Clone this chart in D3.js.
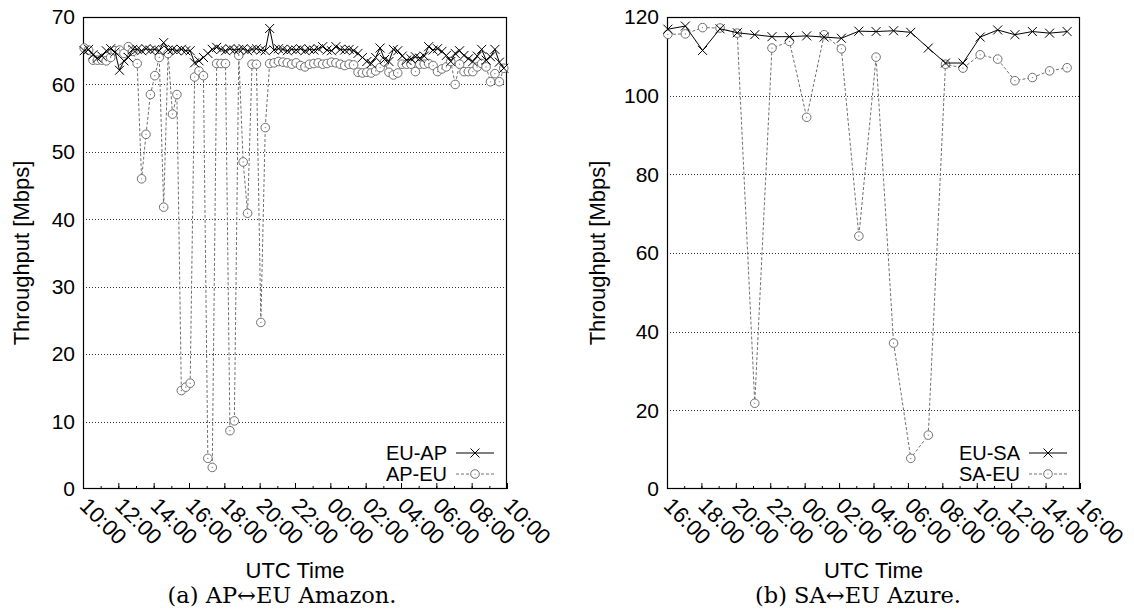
<!DOCTYPE html>
<html><head><meta charset="utf-8">
<script src="https://cdn.jsdelivr.net/npm/d3@7"></script>
<style>
body{margin:0;background:#fff}
svg{display:block}
text{font-family:"Liberation Sans",Arial,Helvetica,sans-serif;fill:#000}
</style>
</head><body>
<svg id="c" width="1134" height="613"></svg>
<script>
// ---------- data: (a) AP<->EU Amazon ----------
const apTimes = ["10:04","10:19","10:34","10:49","11:04","11:19","11:34","11:49","12:04","12:19","12:34","12:49",
"13:04","13:19","13:34","13:49","14:04","14:19","14:34","14:49","15:04","15:19","15:34","15:49",
"16:04","16:19","16:34","16:49","17:04","17:19","17:34","17:49","18:04","18:19","18:34","18:49",
"19:04","19:19","19:34","19:49","20:04","20:19","20:34","20:49","21:04","21:19","21:34","21:49",
"22:04","22:19","22:34","22:49","23:04","23:19","23:34","23:49","00:04","00:19","00:34","00:49",
"01:04","01:19","01:34","01:49","02:04","02:19","02:34","02:49","03:04","03:19","03:34","03:49",
"04:04","04:19","04:34","04:49","05:04","05:19","05:34","05:49","06:04","06:19","06:34","06:49",
"07:04","07:19","07:34","07:49","08:04","08:19","08:34","08:49","09:04","09:19","09:34","09:49"];
const euAP = [65.0,65.2,64.4,63.9,64.2,65.0,65.3,64.8,62.1,63.5,64.0,65.2,
65.2,65.0,65.3,65.1,65.2,65.0,66.2,65.1,65.2,65.0,65.2,65.0,
65.0,63.2,63.5,64.0,64.6,65.2,65.5,65.2,65.0,65.3,65.1,65.2,
65.3,65.0,65.2,65.3,65.1,65.0,68.3,65.1,65.3,65.2,65.0,65.2,
65.1,65.3,65.0,65.2,65.1,65.3,65.6,65.1,65.0,65.6,65.2,65.1,
65.2,65.0,64.6,64.0,63.4,63.1,64.0,65.4,63.7,63.4,65.2,65.0,
64.2,63.6,63.8,64.1,63.9,64.2,65.6,65.1,65.3,64.9,64.3,63.4,
64.6,65.0,64.3,63.8,63.4,64.2,65.2,63.6,64.1,65.2,63.3,62.4];
const apEU = [65.4,65.1,63.6,63.6,63.6,63.5,64.0,65.0,65.1,64.6,65.6,64.9,
63.1,46.0,52.6,58.5,61.3,64.0,41.8,64.6,55.6,58.5,14.6,15.1,
15.7,61.1,62.0,61.3,4.55,3.2,63.1,63.1,63.1,8.65,10.1,64.3,
48.5,40.9,63.0,63.0,24.7,53.6,63.1,63.2,63.4,63.3,63.2,63.0,
63.2,62.8,62.6,63.0,63.1,63.2,63.0,63.1,63.3,63.2,63.0,62.8,
63.0,62.9,61.8,61.7,61.8,61.7,62.0,62.5,63.3,61.8,61.4,61.7,
63.0,63.0,63.0,61.9,63.0,63.0,63.1,62.8,61.9,62.3,62.6,63.4,
60.0,63.0,61.9,61.9,61.9,62.6,63.1,62.6,60.4,61.6,60.4,62.4];
const apYTicks = [0,10,20,30,40,50,60,70];

// ---------- data: (b) SA<->EU Azure ----------
const saTimes = ["16:03","17:04","18:04","19:05","20:05","21:06","22:06","23:07","00:07","01:08","02:08","03:09",
"04:09","05:10","06:10","07:11","08:11","09:12","10:12","11:13","12:13","13:14","14:14","15:15"];
const euSA = [116.9,117.7,111.5,117.0,116.0,115.5,115.0,115.0,115.2,114.9,114.6,116.4,
116.3,116.5,116.1,112.1,108.3,108.3,114.9,116.7,115.5,116.3,115.9,116.3];
const saEU = [115.6,115.7,117.3,117.2,115.9,21.8,112.1,113.8,94.5,115.5,111.9,64.3,
109.8,37.1,7.8,13.7,108.0,107.0,110.4,109.3,103.8,104.6,106.3,107.1];
const saYTicks = [0,20,40,60,80,100,120];

// ---------- drawing ----------
const svg = d3.select("#c");
const GRAY = "#707070";
const SANS = "'Liberation Sans', Arial, sans-serif";

function parseT(s, startHour){
  const h = +s.slice(0,2), m = +s.slice(3,5);
  return new Date(Date.UTC(2000,0, h < startHour ? 2 : 1, h, m));
}

function chart(cfg){
  const g = svg.append("g");
  const x = d3.scaleUtc()
    .domain([new Date(Date.UTC(2000,0,1,cfg.startHour)), new Date(Date.UTC(2000,0,2,cfg.startHour))])
    .range([cfg.x0, cfg.x1]);
  const y = d3.scaleLinear().domain([0, d3.max(cfg.yTicks)]).range([cfg.y1, cfg.y0]);

  // grid
  g.append("g").selectAll("line").data(cfg.yTicks.slice(1,-1)).join("line")
    .attr("x1", cfg.x0).attr("x2", cfg.x1)
    .attr("y1", d => Math.round(y(d))+0.5).attr("y2", d => Math.round(y(d))+0.5)
    .attr("stroke", "#333").attr("stroke-width", 1).attr("stroke-dasharray", "1,2");

  // y axis labels
  const ya = g.append("g").attr("transform", `translate(${cfg.x0},0)`)
    .call(d3.axisLeft(y).tickValues(cfg.yTicks).tickSize(0).tickPadding(8));
  ya.select(".domain").remove();
  ya.selectAll("text").attr("font-size", 21).style("font-family", SANS);

  // minor x ticks
  const xm = g.append("g").attr("transform", `translate(0,${cfg.y1})`)
    .call(d3.axisBottom(x).ticks(d3.utcHour.every(1)).tickSize(-3).tickFormat(""));
  xm.select(".domain").remove();
  // major x ticks + labels
  const xa = g.append("g").attr("transform", `translate(0,${cfg.y1})`)
    .call(d3.axisBottom(x).ticks(d3.utcHour.every(2)).tickSize(-6).tickFormat(d3.utcFormat("%H:%M")));
  xa.select(".domain").remove();
  xa.selectAll("text")
    .attr("x", null).attr("y", null).attr("dy", null)
    .attr("text-anchor", "start")
    .attr("transform", "translate(-5,18) rotate(45)")
    .attr("font-size", 22).style("font-family", SANS);

  // frame
  g.append("rect").attr("x", cfg.x0+0.5).attr("y", cfg.y0+0.5)
    .attr("width", cfg.x1-cfg.x0-1).attr("height", cfg.y1-cfg.y0-1)
    .attr("fill", "none").attr("stroke", "#000").attr("stroke-width", 1.2);

  const d1 = cfg.times.map((t,i) => ({t: parseT(t, cfg.startHour), v: cfg.s1[i]}));
  const d2 = cfg.times.map((t,i) => ({t: parseT(t, cfg.startHour), v: cfg.s2[i]}));
  const line = d3.line().x(d => x(d.t)).y(d => y(d.v));

  // series 2 (dashed gray circles)
  g.append("path").datum(d2).attr("d", line).attr("fill", "none")
    .attr("stroke", GRAY).attr("stroke-width", 1).attr("stroke-dasharray", "3,2");
  const c2 = g.append("g").selectAll("g").data(d2).join("g")
    .attr("transform", d => `translate(${x(d.t)},${y(d.v)})`);
  c2.append("circle").attr("r", 4.3).attr("fill", "#fff").attr("stroke", GRAY).attr("stroke-width", 1);
  c2.append("circle").attr("r", 0.6).attr("fill", GRAY);

  // series 1 (solid black crosses)
  g.append("path").datum(d1).attr("d", line).attr("fill", "none")
    .attr("stroke", "#000").attr("stroke-width", 1);
  g.append("g").selectAll("path").data(d1).join("path")
    .attr("transform", d => `translate(${x(d.t)},${y(d.v)})`)
    .attr("d", "M-4.5,-4.5L4.5,4.5M-4.5,4.5L4.5,-4.5")
    .attr("stroke", "#000").attr("stroke-width", 1).attr("fill", "none");

  // legend
  const lx1 = cfg.x1 - 13, lx0 = lx1 - 38, lm = (lx0 + lx1) / 2;
  const rows = [{name: cfg.names[0], yy: cfg.y1 - 36, s: 1}, {name: cfg.names[1], yy: cfg.y1 - 15, s: 2}];
  rows.forEach(r => {
    g.append("text").attr("x", lx0 - 9).attr("y", r.yy).attr("dy", "0.36em")
      .attr("text-anchor", "end").attr("font-size", 20).style("font-family", SANS).text(r.name);
    if (r.s === 1) {
      g.append("line").attr("x1", lx0).attr("x2", lx1).attr("y1", r.yy).attr("y2", r.yy)
        .attr("stroke", "#000").attr("stroke-width", 1);
      g.append("path").attr("transform", `translate(${lm},${r.yy})`)
        .attr("d", "M-4.5,-4.5L4.5,4.5M-4.5,4.5L4.5,-4.5").attr("stroke", "#000").attr("fill", "none");
    } else {
      g.append("line").attr("x1", lx0).attr("x2", lx1).attr("y1", r.yy).attr("y2", r.yy)
        .attr("stroke", GRAY).attr("stroke-width", 1).attr("stroke-dasharray", "3,2");
      g.append("circle").attr("cx", lm).attr("cy", r.yy).attr("r", 4.3)
        .attr("fill", "#fff").attr("stroke", GRAY);
      g.append("circle").attr("cx", lm).attr("cy", r.yy).attr("r", 0.6).attr("fill", GRAY);
    }
  });

  // axis titles
  g.append("text").attr("x", (cfg.x0 + cfg.x1) / 2).attr("y", 578)
    .attr("text-anchor", "middle").attr("font-size", 22).style("font-family", SANS).text("UTC Time");
  g.append("text").attr("transform", `translate(${cfg.ylabX},${(cfg.y0 + cfg.y1) / 2}) rotate(-90)`)
    .attr("text-anchor", "middle").attr("font-size", 22).style("font-family", SANS).text("Throughput [Mbps]");

  // caption
  g.append("text").attr("x", cfg.capX).attr("y", 603).attr("text-anchor", "middle")
    .style("font-family", "'DejaVu Serif', serif")
    .attr("font-size", 22.5).text(cfg.caption);
}

chart({x0: 83, x1: 507, y0: 17, y1: 489, startHour: 10, yTicks: apYTicks,
  times: apTimes, s1: euAP, s2: apEU, names: ["EU-AP", "AP-EU"],
  ylabX: 29, capX: 282, caption: "(a) AP\u2194EU Amazon."});
chart({x0: 667, x1: 1080, y0: 17, y1: 489, startHour: 16, yTicks: saYTicks,
  times: saTimes, s1: euSA, s2: saEU, names: ["EU-SA", "SA-EU"],
  ylabX: 605, capX: 858, caption: "(b) SA\u2194EU Azure."});
</script>
</body></html>
